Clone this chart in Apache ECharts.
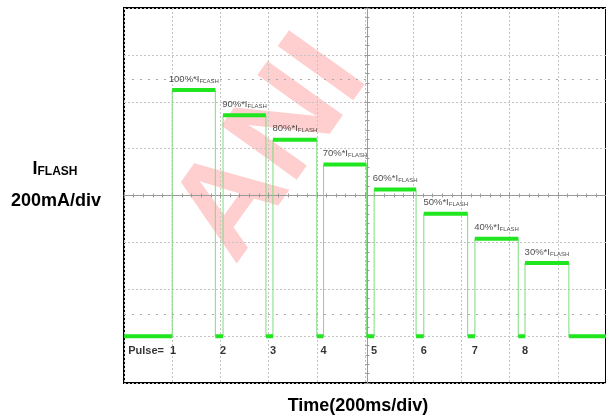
<!DOCTYPE html>
<html>
<head>
<meta charset="utf-8">
<script src="https://cdn.jsdelivr.net/npm/echarts@6/dist/echarts.min.js"></script>
<style>
html,body{margin:0;padding:0;background:#fff;}
#c{width:606px;height:419px;}
</style>
</head>
<body>
<div id="c"></div>
<script>
// ---- data (time in ms, current in mA above the baseline) ----
const pulseNames   = ['1', '2', '3', '4', '5', '6', '7', '8'];
const levelLabels  = ['100%', '90%', '80%', '70%', '60%', '50%', '40%', '30%'];
const riseMs       = [200, 411, 618, 828, 1038, 1244, 1456, 1664];
const fallMs       = [379, 589, 800, 1006, 1212, 1426, 1636, 1846];
const pulseLevelmA = [1050, 942, 838, 732, 626, 522, 416, 312];
const baselinemA   = 0;
const traceStartMs = 0;
const traceEndMs   = 2000;
const cursorLevelsmA = [1098, 94];
const pulseLabelmA = -64;
const xTicksMs = { min: 0, max: 2000, step: 200 };
const yTicksmA = { min: -200, max: 1400, step: 200 };

// ---- build trace ----
const trace = [[traceStartMs, baselinemA]];
const flats = [[traceStartMs, baselinemA]];
for (let i = 0; i < riseMs.length; i++) {
  trace.push([riseMs[i], baselinemA], [riseMs[i], pulseLevelmA[i]], [fallMs[i], pulseLevelmA[i]], [fallMs[i], baselinemA]);
  flats.push([riseMs[i], baselinemA], [riseMs[i], null], [riseMs[i], pulseLevelmA[i]], [fallMs[i], pulseLevelmA[i]], [fallMs[i], null], [fallMs[i], baselinemA]);
}
trace.push([traceEndMs, baselinemA]);
flats.push([traceEndMs, baselinemA]);

const levelPts = riseMs.map((r, i) => ({ value: [(r + fallMs[i]) / 2, pulseLevelmA[i]], name: levelLabels[i] }));
const pulsePts = riseMs.map((r, i) => {
  const o = { value: [r, pulseLabelmA], name: pulseNames[i] };
  if (i === 0) o.label = { formatter: 'Pulse=  ' + pulseNames[0], align: 'right', offset: [4, 0] };
  return o;
});

const chart = echarts.init(document.getElementById('c'), null, { renderer: 'canvas' });
const FONT = '"Liberation Sans", Arial, sans-serif';
const GRID = { left: 124, top: 8, width: 487, height: 375 };

const hidden = { axisLabel: { show: false }, axisLine: { show: false }, axisTick: { show: false } };
const CC = '#9a9a9a';

chart.setOption({
  animation: false,
  backgroundColor: '#fff',
  grid: Object.assign({ show: true, borderColor: '#000', borderWidth: 2, backgroundColor: 'transparent' }, GRID),
  xAxis: [
    Object.assign({ type: 'value', min: xTicksMs.min, max: xTicksMs.max, interval: xTicksMs.step,
      splitLine: { show: true, lineStyle: { color: '#c4c4c4', type: [2, 2], width: 1 } } }, hidden),
    { type: 'value', min: xTicksMs.min, max: xTicksMs.max, interval: xTicksMs.step, position: 'bottom', offset: -GRID.height / 2,
      axisLabel: { show: false }, splitLine: { show: false },
      axisLine: { show: true, lineStyle: { color: CC, width: 1 } },
      axisTick: { show: true, inside: true, length: 3, lineStyle: { color: CC } },
      minorTick: { show: true, splitNumber: 5, length: 2, lineStyle: { color: CC } } },
    { type: 'value', min: xTicksMs.min, max: xTicksMs.max, interval: xTicksMs.step, position: 'bottom', offset: -GRID.height / 2,
      axisLabel: { show: false }, splitLine: { show: false }, axisLine: { show: false },
      axisTick: { show: true, inside: false, length: 3, lineStyle: { color: CC } },
      minorTick: { show: true, splitNumber: 5, length: 2, lineStyle: { color: CC } } }
  ],
  yAxis: [
    Object.assign({ type: 'value', min: yTicksmA.min, max: yTicksmA.max, interval: yTicksmA.step,
      splitLine: { show: true, lineStyle: { color: '#c4c4c4', type: [2, 2], width: 1 } } }, hidden),
    { type: 'value', min: yTicksmA.min, max: yTicksmA.max, interval: yTicksmA.step, position: 'left', offset: -GRID.width / 2,
      axisLabel: { show: false }, splitLine: { show: false },
      axisLine: { show: true, lineStyle: { color: CC, width: 1 } },
      axisTick: { show: true, inside: true, length: 3, lineStyle: { color: CC } },
      minorTick: { show: true, splitNumber: 5, length: 2, lineStyle: { color: CC } } },
    { type: 'value', min: yTicksmA.min, max: yTicksmA.max, interval: yTicksmA.step, position: 'left', offset: -GRID.width / 2,
      axisLabel: { show: false }, splitLine: { show: false }, axisLine: { show: false },
      axisTick: { show: true, inside: false, length: 3, lineStyle: { color: CC } },
      minorTick: { show: true, splitNumber: 5, length: 2, lineStyle: { color: CC } } }
  ],
  graphic: [
    { type: 'text', z: -10, silent: true, x: 272, y: 150, rotation: 0.95,
      style: { text: 'ANI', font: 'bold 135px ' + FONT, fill: 'rgba(255,30,30,0.22)', align: 'center', verticalAlign: 'middle' } },
    { type: 'text', x: 55, y: 169, style: { text: '{a|I}{b|FLASH}', align: 'center', verticalAlign: 'middle',
      rich: { a: { font: 'bold 18px ' + FONT, fill: '#000', verticalAlign: 'bottom' }, b: { font: 'bold 12px ' + FONT, fill: '#000', verticalAlign: 'bottom' } } } },
    { type: 'text', x: 56, y: 201, style: { text: '200mA/div', font: 'bold 18px ' + FONT, fill: '#000', align: 'center', verticalAlign: 'middle' } },
    { type: 'text', x: 358, y: 406, style: { text: 'Time(200ms/div)', font: 'bold 18px ' + FONT, fill: '#000', align: 'center', verticalAlign: 'middle' } }
  ],
  series: [
    { type: 'line', data: trace, symbol: 'none', z: 3, lineStyle: { color: '#7fdc7f', width: 1 },
      markLine: { silent: true, symbol: 'none', label: { show: false },
        lineStyle: { color: '#aaaaaa', type: [2, 6], width: 1.2 },
        data: cursorLevelsmA.map(v => ({ yAxis: v })) } },
    { type: 'line', data: flats, symbol: 'none', z: 4, connectNulls: false, lineStyle: { color: '#1fe61f', width: 4 } },
    { type: 'scatter', data: levelPts, symbolSize: 0, z: 5,
      label: { show: true, position: 'top', distance: 6, formatter: p => '{a|' + p.name + '*I}{b|FLASH}',
        rich: { a: { fontFamily: FONT, fontSize: 9.5, color: '#222', verticalAlign: 'bottom' }, b: { fontFamily: FONT, fontSize: 6, color: '#222', verticalAlign: 'bottom' } } } },
    { type: 'scatter', data: pulsePts, symbolSize: 0, z: 5,
      label: { show: true, position: 'inside', formatter: p => p.name, fontFamily: FONT, fontWeight: 'bold', fontSize: 11, color: '#000', align: 'center', verticalAlign: 'middle' } }
  ]
});
</script>
</body>
</html>
